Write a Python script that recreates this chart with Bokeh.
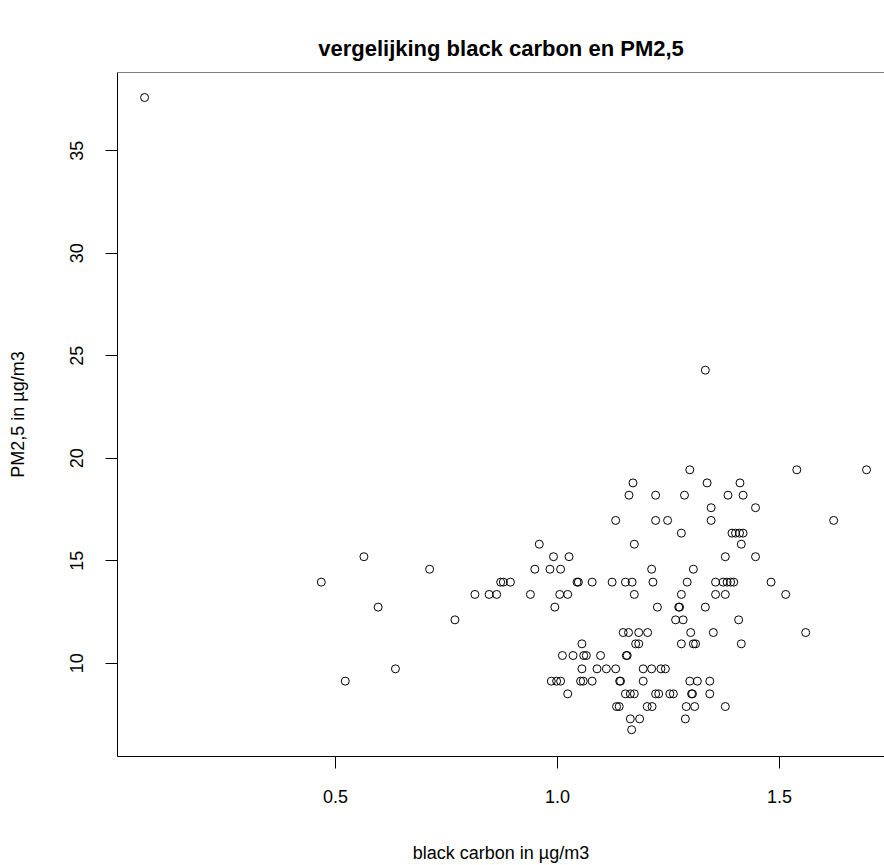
from bokeh.plotting import figure
from bokeh.models import Range1d, FixedTicker, Span, ColumnDataSource
from bokeh.embed import file_html
from bokeh.resources import INLINE

black_carbon = [
    0.070,
    1.333,
    1.298, 1.539, 1.696,
    1.170, 1.337, 1.411,
    1.161, 1.221, 1.286, 1.384, 1.418,
    1.346, 1.446,
    1.131, 1.221, 1.248, 1.346, 1.622,
    1.279, 1.393, 1.401, 1.410, 1.418,
    0.959, 1.173, 1.414,
    0.564, 0.991, 1.026, 1.378, 1.446,
    0.712, 0.949, 0.983, 1.007, 1.212, 1.306,
    0.468, 0.872, 0.878, 0.894, 1.044, 1.047, 1.078, 1.123, 1.153, 1.168,
    1.215, 1.292, 1.356, 1.373, 1.382, 1.390, 1.397, 1.481,
    0.814, 0.846, 0.863, 0.939, 1.005, 1.023, 1.173, 1.279, 1.356, 1.378, 1.514,
    0.596, 0.994, 1.225, 1.273, 1.275, 1.333,
    0.769, 1.266, 1.283, 1.408,
    1.148, 1.160, 1.183, 1.203, 1.300, 1.351, 1.559,
    1.055, 1.176, 1.183, 1.279, 1.306, 1.311, 1.414,
    1.011, 1.035, 1.059, 1.065, 1.097, 1.155, 1.157,
    0.635, 1.055, 1.089, 1.110, 1.131, 1.193, 1.212, 1.233, 1.243,
    0.522, 0.986, 0.998, 1.007, 1.052, 1.058, 1.078, 1.140, 1.142, 1.193, 1.298, 1.315, 1.343,
    1.023, 1.153, 1.164, 1.173, 1.221, 1.228, 1.253, 1.261, 1.302, 1.304, 1.343,
    1.133, 1.139, 1.202, 1.213, 1.290, 1.309, 1.378,
    1.164, 1.185, 1.288,
    1.167,
]

pm25 = (
    [37.6]
    + [24.3]
    + [19.44] * 3
    + [18.8] * 3
    + [18.2] * 5
    + [17.59] * 2
    + [16.97] * 5
    + [16.35] * 5
    + [15.81] * 3
    + [15.2] * 5
    + [14.59] * 6
    + [13.96] * 18
    + [13.36] * 11
    + [12.74] * 6
    + [12.12] * 4
    + [11.5] * 7
    + [10.95] * 7
    + [10.38] * 7
    + [9.73] * 9
    + [9.13] * 13
    + [8.51] * 11
    + [7.89] * 7
    + [7.29] * 3
    + [6.76] * 1
)

x_ticks = [0.5, 1.0, 1.5]
x_tick_labels = ["0.5", "1.0", "1.5"]
y_ticks = [10, 15, 20, 25, 30, 35]

title_text = "vergelijking black carbon en PM2,5"
x_label = "black carbon in \u00b5g/m3"
y_label = "PM2,5 in \u00b5g/m3"

FONT = "Liberation Sans"
Y_END = 38.82

src = ColumnDataSource(data=dict(x=black_carbon, y=pm25))

p = figure(
    width=884, height=865,
    output_backend="svg", toolbar_location=None,
    x_range=Range1d(0.009, 1.7365), y_range=Range1d(5.454, Y_END),
    min_border_left=117, min_border_right=0,
    min_border_top=72, min_border_bottom=109,
    background_fill_color="white", border_fill_color="white",
)
p.outline_line_color = None
p.xgrid.visible = False
p.ygrid.visible = False

p.title.text = title_text
p.title.align = "center"
p.title.text_font = FONT
p.title.text_font_size = "22px"
p.title.text_font_style = "bold"
p.title.text_color = "black"
p.title.standoff = 23

p.scatter("x", "y", source=src, marker="circle", size=8,
          fill_color=None, line_color="black", line_width=1)

for ax in (p.xaxis[0], p.yaxis[0]):
    ax.axis_line_color = "black"
    ax.axis_line_width = 1
    ax.major_tick_line_color = "black"
    ax.major_tick_out = 12
    ax.major_tick_in = 0
    ax.minor_tick_line_color = None
    ax.major_label_text_font = FONT
    ax.major_label_text_font_size = "18px"
    ax.major_label_text_color = "black"
    ax.axis_label_text_font = FONT
    ax.axis_label_text_font_size = "18px"
    ax.axis_label_text_font_style = "normal"
    ax.axis_label_text_color = "black"

p.xaxis.ticker = FixedTicker(ticks=x_ticks)
p.xaxis.major_label_overrides = {t: s for t, s in zip(x_ticks, x_tick_labels)}
p.xaxis.axis_label = x_label
p.xaxis.major_label_standoff = 21
p.xaxis.axis_label_standoff = 37

p.yaxis.ticker = FixedTicker(ticks=y_ticks)
p.yaxis.major_label_orientation = "vertical"
p.yaxis.axis_label = y_label
p.yaxis.major_label_standoff = 22
p.yaxis.axis_label_standoff = 40

top_line = Span(location=Y_END, dimension="width", line_color="black", line_width=1)
p.add_layout(top_line)

open("out.html", "w").write(file_html(p, INLINE))
